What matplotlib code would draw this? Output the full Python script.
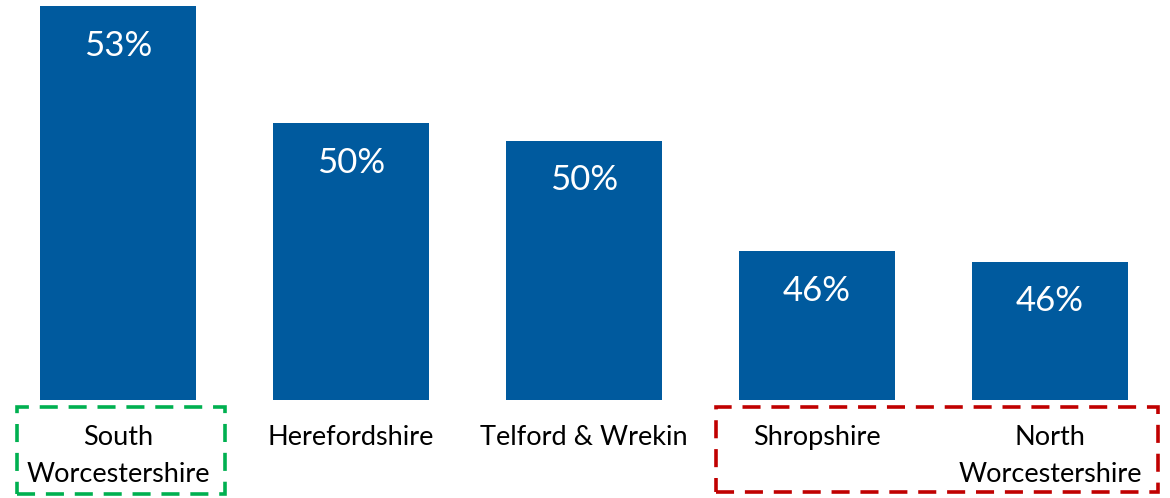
import matplotlib.pyplot as plt
import numpy as np
from matplotlib.patches import Rectangle
from matplotlib.transforms import blended_transform_factory

# -------------------------
# Data
# -------------------------
areas = ['South\nWorcestershire', 'Herefordshire', 'Telford & Wrekin',
         'Shropshire', 'North\nWorcestershire']
pct = [53.4, 50.0, 49.5, 46.3, 46.0]

bar_color = '#005A9E'
plt.rcParams['font.family'] = ['Lato', 'DejaVu Sans']

x = np.arange(len(areas))

# -------------------------
# Figure
# -------------------------
fig = plt.figure(figsize=(11.7, 4.98), dpi=100)
ax = fig.add_axes([0.0013, 0.1968, 0.9957, 0.7912])

bars = ax.bar(x, pct, width=0.67, color=bar_color)
ax.set_xlim(-0.5, len(areas) - 0.5)
ax.set_ylim(42, 53.4)

for b, v in zip(bars, pct):
    ax.annotate(f'{round(v)}%', (b.get_x() + b.get_width() / 2, b.get_height()),
                xytext=(0, -17), textcoords='offset points',
                ha='center', va='top', color='white', fontsize=25)

ax.set_xticks(x)
ax.set_xticklabels(areas, fontsize=19.5, linespacing=1.6)
ax.tick_params(axis='x', length=0, pad=18)
ax.set_yticks([])
for s in ax.spines.values():
    s.set_visible(False)

# dashed highlight boxes round the labels
tr = blended_transform_factory(ax.transData, fig.transFigure)
ax.add_patch(Rectangle((-0.433, 0.008), 0.892, 0.175, transform=tr, fill=False,
                       edgecolor='#00B050', lw=2.6, linestyle=(0, (5, 3)),
                       clip_on=False))
ax.add_patch(Rectangle((2.567, 0.012), 1.897, 0.171, transform=tr, fill=False,
                       edgecolor='#C00000', lw=2.6, linestyle=(0, (5, 3)),
                       clip_on=False))

plt.savefig('out.png', dpi=100)
